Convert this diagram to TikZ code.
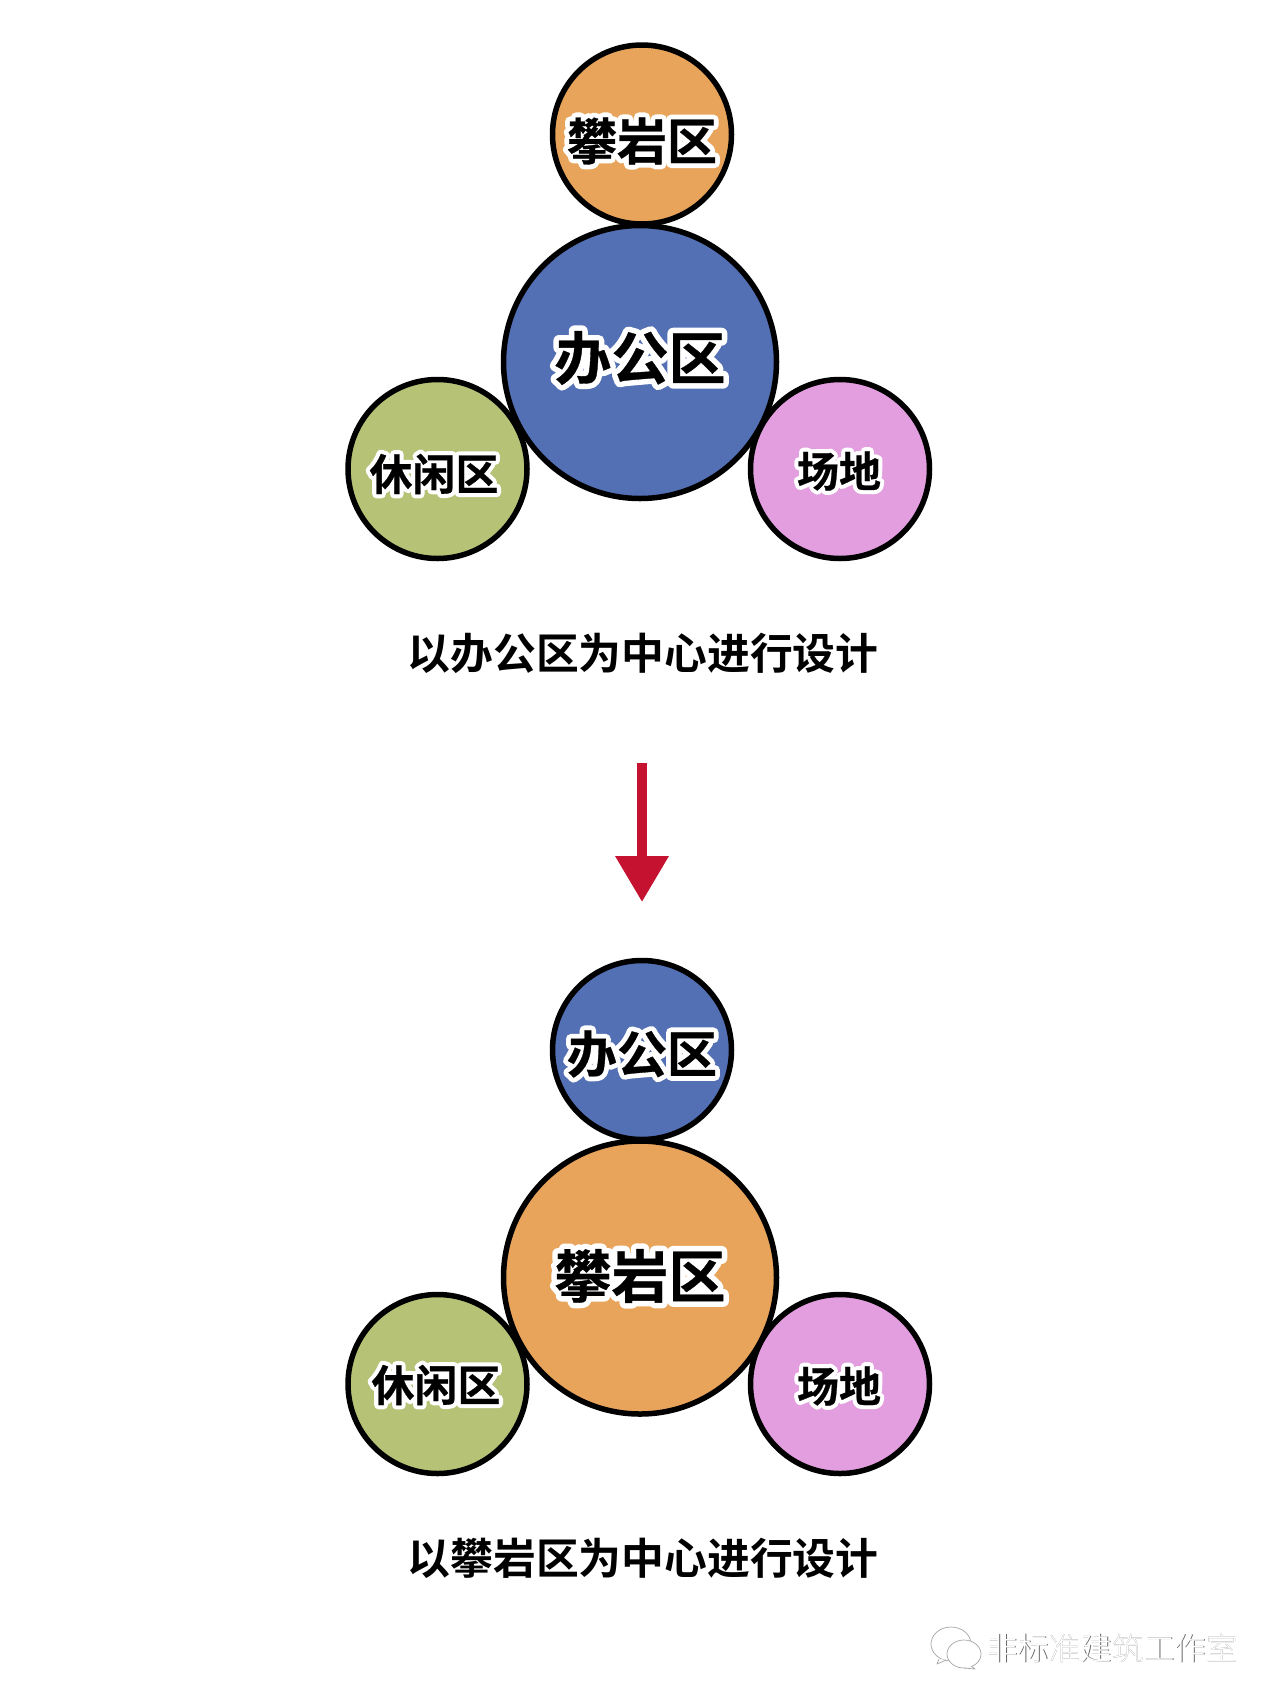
\documentclass[tikz,border=0pt]{standalone}
\usepackage{fontspec}
\usetikzlibrary{arrows.meta}
\newfontfamily\cjk{Noto Sans CJK SC}[BoldFont={Noto Sans CJK SC Bold}]
\newfontfamily\cjkhalo{Noto Sans CJK SC Bold}[FakeBold=20]
\newfontfamily\cjkink{Noto Sans CJK SC Bold}[FakeBold=0.6]
\newfontfamily\cjkmark{Noto Sans CJK SC Light}
\newcommand{\halotext}[2]{\fontsize{#1}{#1}\selectfont\special{pdf:code 1 j 1 J}\rlap{\color{white}\cjkhalo #2}{\color{black}\cjkink #2}}
\definecolor{cblue}{HTML}{5470B4}
\definecolor{corange}{HTML}{E9A45C}
\definecolor{cgreen}{HTML}{B6C276}
\definecolor{cpink}{HTML}{E39EE0}
\definecolor{cred}{HTML}{C41230}
\tikzset{
  x=1pt,y=-1pt,
  bubble/.style={circle,draw=black,line width=5.5pt,inner sep=0pt},
  smallbub/.style={bubble,minimum size=179pt},
  bigbub/.style={bubble,minimum size=273pt},
  tag/.style={inner sep=0pt,anchor=center},
  caption/.style={inner sep=0pt,anchor=center,font=\cjk\bfseries\fontsize{42.8}{42.8}\selectfont},
  flow/.style={cred,line width=10pt,-{Triangle[length=46pt,width=51pt]}},
  mark shade/.style={inner sep=0pt,font=\cjkmark\fontsize{31.4}{31.4}\selectfont},
}
\begin{document}
\begin{tikzpicture}[line join=round]
\useasboundingbox (0,0) rectangle (1280,1706);
\fill[white] (0,0) rectangle (1280,1706);
% upper group
\node[smallbub,fill=corange] (a1) at (642,134.5) {};
\node[smallbub,fill=cgreen] (a2) at (437.5,469) {};
\node[smallbub,fill=cpink] (a3) at (840,469) {};
\node[bigbub,fill=cblue] (a0) at (640,362) {};
\node[tag] (ta1) at (642,141) {\halotext{50}{攀岩区}};
\node[tag] (ta2) at (434,474) {\halotext{43}{休闲区}};
\node[tag] (ta3) at (839,471) {\halotext{42}{场地}};
\node[tag] (ta0) at (640,358) {\halotext{57}{办公区}};
\node[caption] (c1) at (643,653) {以办公区为中心进行设计};
% arrow
\coordinate (f1) at (642,763);
\coordinate (f2) at (642,902);
\draw[flow,line join=miter] (f1) -- (f2);
% lower group
\node[smallbub,fill=cblue] (b1) at (642,1050) {};
\node[smallbub,fill=cgreen] (b2) at (437.5,1384) {};
\node[smallbub,fill=cpink] (b3) at (840,1384) {};
\node[bigbub,fill=corange] (b0) at (640,1277.5) {};
\node[tag] (tb1) at (642,1054) {\halotext{50}{办公区}};
\node[tag] (tb2) at (436,1385) {\halotext{43}{休闲区}};
\node[tag] (tb3) at (839,1386) {\halotext{42}{场地}};
\node[tag] (tb0) at (640,1276) {\halotext{57}{攀岩区}};
\node[caption] (c2) at (643,1558) {以攀岩区为中心进行设计};
% watermark
\begin{scope}[draw=black!35,line width=0.7pt,fill=white]
\filldraw (951,1644) ellipse (20 and 17);
\filldraw (939,1659) -- (937,1664) -- (946,1660);
\filldraw (964,1654) ellipse (17 and 14);
\filldraw (971,1666) -- (975,1669) -- (964,1668);
\end{scope}
\node[mark shade,text=black!60] (w0) at (1112.6,1648.7) {非标准建筑工作室};
\node[mark shade,text=white] (w1) at (1112,1648) {非标准建筑工作室};
\end{tikzpicture}
\end{document}
